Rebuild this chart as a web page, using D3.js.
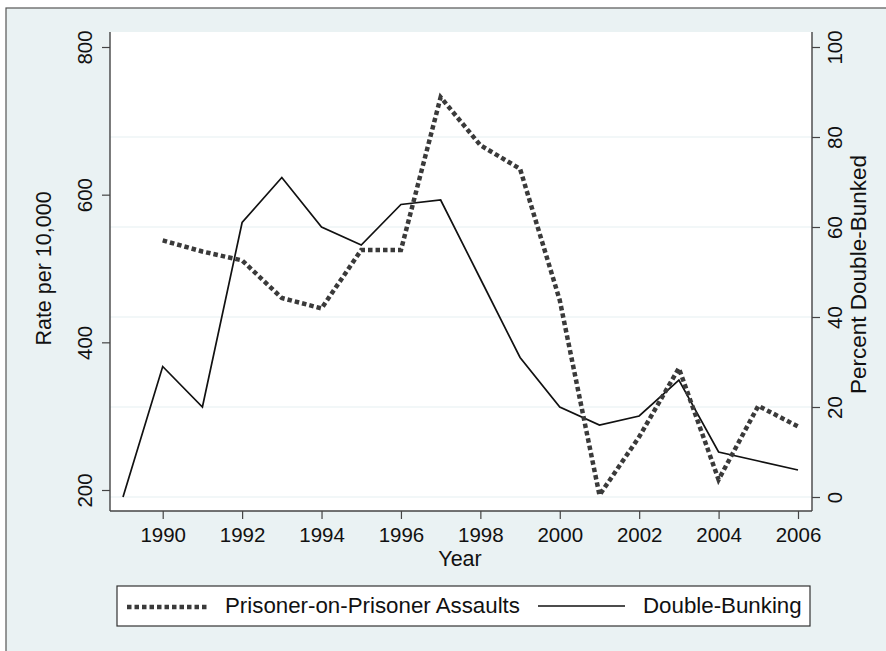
<!DOCTYPE html>
<html>
<head>
<meta charset="utf-8">
<script src="https://cdn.jsdelivr.net/npm/d3@7"></script>
<style>
  body { margin: 0; background: #fff; }
  svg text { font-family: "Liberation Sans", Helvetica, Arial, sans-serif; fill: #111; }
</style>
</head>
<body>
<svg id="chart" width="886" height="651"></svg>
<script>
// data
const years = [1989, 1990, 1991, 1992, 1993, 1994, 1995, 1996, 1997, 1998, 1999, 2000, 2001, 2002, 2003, 2004, 2005, 2006];
// rate per 10,000 (left axis), no value for 1989
const assaults = [null, 538, 523, 511, 460, 446, 525, 525, 732, 667, 635, 457, 193, 272, 365, 214, 314, 286];
// percent double-bunked (right axis)
const doubleBunk = [0, 29, 20, 61, 71, 60, 56, 65, 66, 48.5, 31, 20, 16, 18, 26, 10, 8, 6];

const xTicks = [1990, 1992, 1994, 1996, 1998, 2000, 2002, 2004, 2006];
const leftTicks = [200, 400, 600, 800];
const rightTicks = [0, 20, 40, 60, 80, 100];
const gridTicks = [0, 20, 40, 60, 80];

const seriesNames = ["Prisoner-on-Prisoner Assaults", "Double-Bunking"];

let svg = d3.select('#chart');

// outer graph region
svg.append('rect')
  .attr('x', 6).attr('y', 8)
  .attr('width', 900).attr('height', 660)
  .attr('fill', '#eaf2f3')
  .attr('stroke', '#555').attr('stroke-width', 1.2);

let plot = {left: 110, right: 812, top: 32, bottom: 511};

svg.append('rect')
  .attr('x', plot.left).attr('y', plot.top)
  .attr('width', plot.right - plot.left).attr('height', plot.bottom - plot.top)
  .attr('fill', '#fff');

let x = d3.scaleLinear().domain([1989, 2006]).range([123, 798]);
let yL = d3.scaleLinear().domain([200, 800]).range([490, 47]);
let yR = d3.scaleLinear().domain([0, 100]).range([497, 47]);

// gridlines follow the right axis
svg.append('g').selectAll('line')
  .data(gridTicks)
  .enter().append('line')
  .attr('x1', plot.left).attr('x2', plot.right)
  .attr('y1', d => yR(d)).attr('y2', d => yR(d))
  .attr('stroke', '#e6eff1').attr('stroke-width', 1.2);

// lines
let assaultData = years.map((y, i) => ({year: y, v: assaults[i]})).filter(d => d.v !== null);
let bunkData = years.map((y, i) => ({year: y, v: doubleBunk[i]}));

svg.append('path')
  .datum(bunkData)
  .attr('fill', 'none')
  .attr('stroke', '#111')
  .attr('stroke-width', 1.7)
  .attr('d', d3.line().x(d => x(d.year)).y(d => yR(d.v)));

svg.append('path')
  .datum(assaultData)
  .attr('fill', 'none')
  .attr('stroke', '#3a3a3a')
  .attr('stroke-width', 4.5)
  .attr('stroke-dasharray', '4.5,3')
  .attr('d', d3.line().x(d => x(d.year)).y(d => yL(d.v)));

// axes
function styleAxis(g) {
  g.select('.domain').attr('stroke', '#444').attr('stroke-width', 1.4);
  g.selectAll('.tick line').attr('stroke', '#444').attr('stroke-width', 1.2);
  g.selectAll('.tick text').attr('font-size', 20.5).attr('fill', '#111');
}

let xAxis = svg.append('g')
  .attr('transform', `translate(0,${plot.bottom})`)
  .call(d3.axisBottom(x).tickValues(xTicks).tickFormat(d3.format('d')).tickSize(8).tickSizeOuter(0))
  .call(styleAxis);
xAxis.select('.domain').attr('d', `M${plot.left},0H${plot.right}`);
xAxis.selectAll('.tick text').attr('y', 31).attr('dy', 0);

let leftAxis = svg.append('g')
  .attr('transform', `translate(${plot.left},0)`)
  .call(d3.axisLeft(yL).tickValues(leftTicks).tickSize(8).tickSizeOuter(0))
  .call(styleAxis);
leftAxis.select('.domain').attr('d', `M0,${plot.top}V${plot.bottom}`);
leftAxis.selectAll('.tick text')
  .attr('transform', 'rotate(-90)')
  .attr('x', 0).attr('y', -18).attr('dy', 0)
  .attr('text-anchor', 'middle');

let rightAxis = svg.append('g')
  .attr('transform', `translate(${plot.right},0)`)
  .call(d3.axisRight(yR).tickValues(rightTicks).tickSize(8).tickSizeOuter(0))
  .call(styleAxis);
rightAxis.select('.domain').attr('d', `M0,${plot.top}V${plot.bottom}`);
rightAxis.selectAll('.tick text')
  .attr('transform', 'rotate(-90)')
  .attr('x', 0).attr('y', 30).attr('dy', 0)
  .attr('text-anchor', 'middle');

// axis titles
svg.append('text')
  .attr('x', (plot.left + plot.right) / 2 - 1).attr('y', 566)
  .attr('text-anchor', 'middle')
  .attr('font-size', 21.5)
  .text('Year');

svg.append('text')
  .attr('transform', `translate(51,${(plot.top + plot.bottom) / 2 - 3}) rotate(-90)`)
  .attr('text-anchor', 'middle')
  .attr('font-size', 21.5)
  .text('Rate per 10,000');

svg.append('text')
  .attr('transform', `translate(866,${(plot.top + plot.bottom) / 2 + 3}) rotate(-90)`)
  .attr('text-anchor', 'middle')
  .attr('font-size', 22.5)
  .text('Percent Double-Bunked');

// legend
let legend = svg.append('g');
legend.append('rect')
  .attr('x', 117).attr('y', 586)
  .attr('width', 693).attr('height', 40)
  .attr('fill', '#fff')
  .attr('stroke', '#333').attr('stroke-width', 1.2);

legend.append('line')
  .attr('x1', 127).attr('x2', 207).attr('y1', 607).attr('y2', 607)
  .attr('stroke', '#3a3a3a').attr('stroke-width', 4.5)
  .attr('stroke-dasharray', '4.5,3');
legend.append('text')
  .attr('x', 225).attr('y', 613)
  .attr('font-size', 22.3)
  .text(seriesNames[0]);

legend.append('line')
  .attr('x1', 538).attr('x2', 625).attr('y1', 606).attr('y2', 606)
  .attr('stroke', '#111').attr('stroke-width', 1.7);
legend.append('text')
  .attr('x', 643).attr('y', 613)
  .attr('font-size', 22.3)
  .text(seriesNames[1]);
</script>
</body>
</html>
